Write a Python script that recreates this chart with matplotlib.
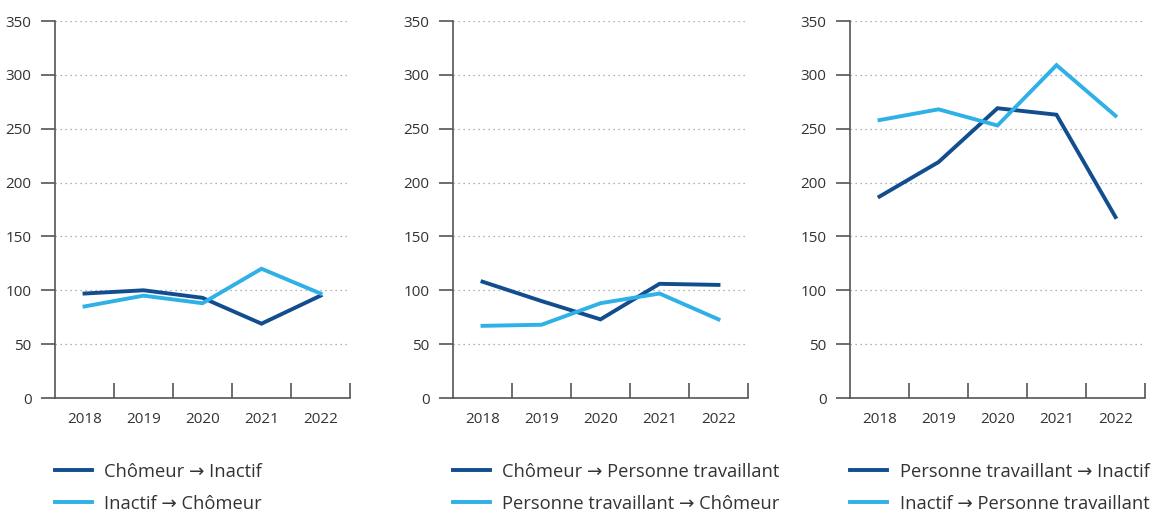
import matplotlib
matplotlib.use("Agg")
import matplotlib.pyplot as plt

plt.rcParams["font.family"] = ["Open Sans", "DejaVu Sans"]

ANNEES = ["2018", "2019", "2020", "2021", "2022"]

chomeur_inactif = [97, 100, 93, 69, 95]
inactif_chomeur = [85, 95, 88, 120, 97]

chomeur_travail = [108, 90, 73, 106, 105]
travail_chomeur = [67, 68, 88, 97, 73]

travail_inactif = [187, 219, 269, 263, 168]
inactif_travail = [258, 268, 253, 309, 262]

PANNEAUX = [
    (("Chômeur → Inactif", chomeur_inactif), ("Inactif → Chômeur", inactif_chomeur)),
    (("Chômeur → Personne travaillant", chomeur_travail),
     ("Personne travaillant → Chômeur", travail_chomeur)),
    (("Personne travaillant → Inactif", travail_inactif),
     ("Inactif → Personne travaillant", inactif_travail)),
]

FONCE = "#124d8f"
CLAIR = "#2fb0e6"
GRIS = "#555555"
TEXTE = "#333333"

fig = plt.figure(figsize=(11.64, 5.15), dpi=100)
gauches = [55, 453, 850]
largeur = 295
for gauche, ((nom1, val1), (nom2, val2)) in zip(gauches, PANNEAUX):
    ax = fig.add_axes([gauche / 1164, 1 - 398 / 515, largeur / 1164, 377 / 515])
    x = range(len(ANNEES))
    ax.plot(x, val1, color=FONCE, lw=2.8, label=nom1, solid_joinstyle="miter")
    ax.plot(x, val2, color=CLAIR, lw=2.8, label=nom2, solid_joinstyle="miter")

    ax.set_xlim(-0.5, len(ANNEES) - 0.5)
    ax.set_ylim(0, 350)
    ax.set_yticks(range(0, 351, 50))
    ax.set_xticks(list(x))
    ax.set_xticklabels(ANNEES)
    ax.set_xticks([i + 0.5 for i in x], minor=True)
    ax.tick_params(axis="x", which="major", length=0, pad=10, labelsize=11,
                   labelcolor=TEXTE)
    ax.tick_params(axis="x", which="minor", direction="in", length=11, width=1.2,
                   color=GRIS)
    ax.tick_params(axis="y", direction="out", length=10, width=1.2, color=GRIS,
                   labelsize=11, labelcolor=TEXTE, pad=7)

    for cote in ("top", "right"):
        ax.spines[cote].set_visible(False)
    for cote in ("left", "bottom"):
        ax.spines[cote].set_color(GRIS)
        ax.spines[cote].set_linewidth(1.2)

    ax.grid(axis="y", linestyle=(0, (1, 3)), color="#999999", lw=0.9)
    ax.set_axisbelow(True)

    ax.legend(loc="upper left", bbox_to_anchor=(0, -0.172), frameon=False,
              handlelength=2.0, handletextpad=0.7, labelspacing=0.75,
              borderaxespad=0, borderpad=0, fontsize=13.2, labelcolor=TEXTE)

fig.savefig("out.png", dpi=100)
